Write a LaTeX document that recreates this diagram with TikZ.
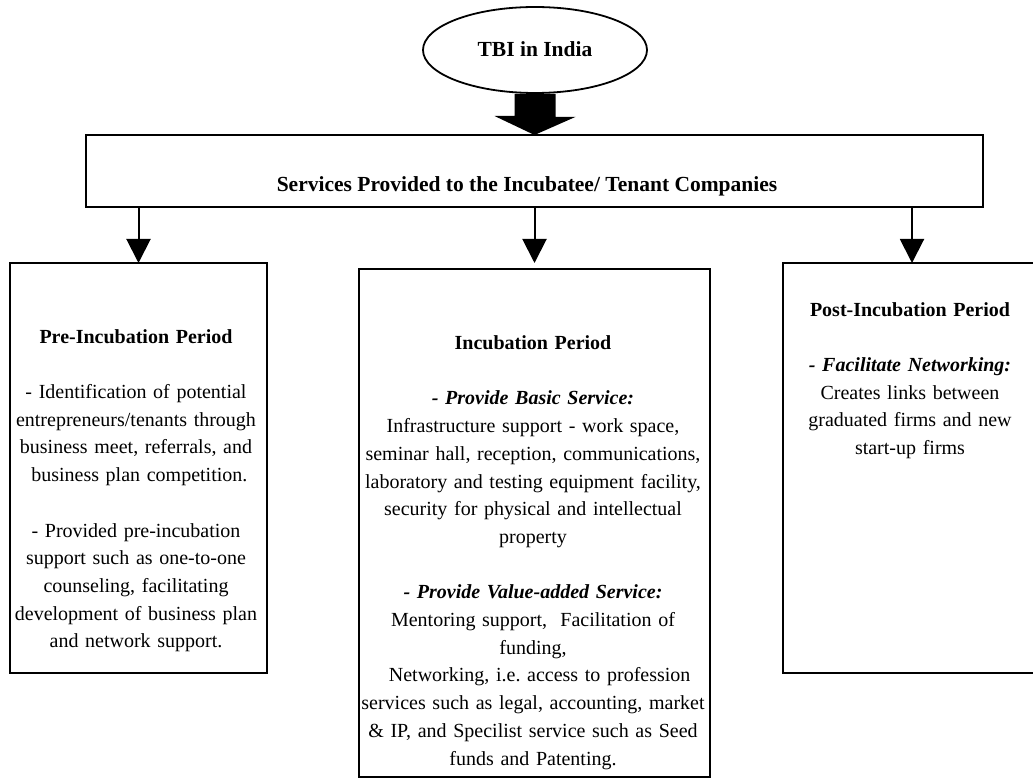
\documentclass[tikz,border=0pt]{standalone}
\usepackage{fontspec}
\setmainfont{Liberation Serif}
\usetikzlibrary{arrows.meta,shapes.geometric,calc}
\frenchspacing
\tikzset{
  panel/.style={draw,line width=2pt,inner sep=0pt,outer sep=0pt},
  txt/.style={align=center,inner sep=0pt,anchor=north,font=\frenchspacing\fontsize{20}{27.7}\selectfont},
  conn/.style={line width=2pt,-{Triangle[width=24pt,length=24pt]}},
  headfont/.style={font=\bfseries\fontsize{21.5}{26}\selectfont}
}
\begin{document}
\begin{tikzpicture}[x=1pt,y=-1pt]
\path[use as bounding box] (0,0) rectangle (1033,783);
\clip (0,0) rectangle (1033,783);

% top ellipse
\node[ellipse,draw,line width=1.8pt,minimum width=224pt,minimum height=86pt,inner sep=0pt] (tbi) at (535,50) {};
\node[headfont,anchor=base,inner sep=0pt] (tbitext) at (535,57) {TBI in India};

% services box
\node[panel,minimum width=897pt,minimum height=72pt] (svc) at (534.5,171) {};
\node[headfont,anchor=base,inner sep=0pt] (svctext) at (527,192) {Services Provided to the Incubatee/ Tenant Companies};

% fat arrow
\fill (tbi.south) ++(-20.5,0) -- ++(41,0) -- ++(0,23) -- ++(20,0) -- (svc.north) -- ++(-40,-19) -- ++(20,0) -- cycle;

% three boxes
\node[panel,minimum width=257pt,minimum height=410pt] (pre) at (138.5,468) {};
\node[panel,minimum width=351pt,minimum height=508pt] (inc) at (534.5,523) {};
\node[panel,minimum width=258pt,minimum height=410pt] (post) at (912,468) {};

% arrows
\draw[conn] (svc.south -| pre.north) -- (pre.north);
\draw[conn,shorten >=6pt] (svc.south -| inc.north) -- (inc.north);
\draw[conn] (svc.south -| post.north) -- (post.north);

% texts
\node[txt,text width=250pt] (pretext) at (136,323.6) {\strut\textbf{Pre-Incubation Period}\\[27.7pt]
- Identification of potential\\
entrepreneurs/tenants through\\
business meet, referrals, and\\
\ business plan competition.\\[27.7pt]
- Provided pre-incubation\\
support such as one-to-one\\
counseling, facilitating\\
development of business plan\\
and network support.};

\node[txt,text width=345pt] (inctext) at (533,330) {\strut\textbf{Incubation Period}\\[27.7pt]
\textbf{\textit{- Provide Basic Service:}}\\
Infrastructure support - work space,\\
seminar hall, reception, communications,\\
laboratory and testing equipment facility,\\
security for physical and intellectual\\
property\\[27.7pt]
\textbf{\textit{- Provide Value-added Service:}}\\
Mentoring support,\ \ Facilitation of\\
funding,\\
\ \ Networking, i.e. access to profession\\
services such as legal, accounting, market\\
\& IP, and Specilist service such as Seed\\
funds and Patenting.};

\node[txt,text width=250pt] (posttext) at (910,296.6) {\strut\textbf{Post-Incubation Period}\\[27.7pt]
\textbf{\textit{- Facilitate Networking:}}\\
Creates links between\\
graduated firms and new\\
start-up firms};
\end{tikzpicture}
\end{document}
